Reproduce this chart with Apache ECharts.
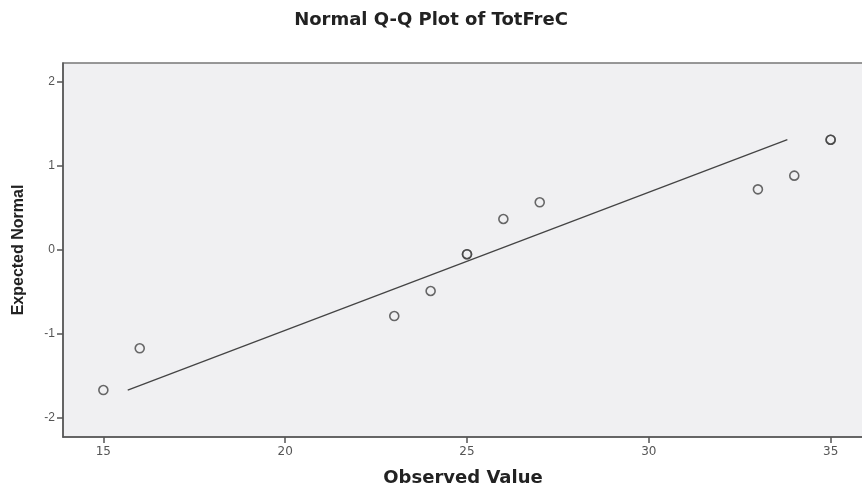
<!DOCTYPE html>
<html><head><meta charset="utf-8">
<script src="https://cdn.jsdelivr.net/npm/echarts@6/dist/echarts.min.js"></script>
<style>html,body{margin:0;padding:0;background:#fff}#c{width:862px;height:488px}</style>
</head><body><div id="c"></div>
<script>
const observedValues = [15, 16, 23, 24, 25, 25, 26, 27, 33, 34, 35, 35];
const expectedNormal = [-1.667, -1.17, -0.786, -0.488, -0.05, -0.05, 0.369, 0.568, 0.722, 0.885, 1.313, 1.313];
const lineX = [15.67, 33.81];
const lineY = [-1.667, 1.313];
const xTicks = [15, 20, 25, 30, 35];
const yTicks = [-2, -1, 0, 1, 2];

const points = observedValues.map((v, i) => [v, expectedNormal[i]]);
const linePts = lineX.map((v, i) => [v, lineY[i]]);
const wide = 'DejaVu Sans, Verdana, sans-serif';
const narrow = 'Liberation Sans, Arial, sans-serif';

const chart = echarts.init(document.getElementById('c'), null, {renderer: 'canvas'});
chart.setOption({
  animation: false,
  backgroundColor: '#ffffff',
  title: {
    text: 'Normal Q-Q Plot of TotFreC',
    left: 'center',
    top: 6,
    textStyle: {fontFamily: wide, fontSize: 18, fontWeight: 'bold', color: '#222'}
  },
  grid: {
    left: 63, right: -1, top: 63, bottom: 51,
    outerBoundsMode: 'none', containLabel: false,
    show: true, backgroundColor: '#f0f0f2', borderColor: '#777', borderWidth: 1.5
  },
  xAxis: {
    type: 'value', min: 13.89, max: 35.89,
    name: 'Observed Value', nameLocation: 'middle', nameGap: 32,
    nameTextStyle: {fontFamily: wide, fontSize: 18, fontWeight: 'bold', color: '#222'},
    axisLine: {show: true, onZero: false, lineStyle: {color: '#555', width: 1.5}},
    axisTick: {show: true, length: 6, customValues: xTicks, lineStyle: {color: '#555', width: 1.5}},
    axisLabel: {customValues: xTicks, fontFamily: wide, fontSize: 12, color: '#555', margin: 9},
    splitLine: {show: false}
  },
  yAxis: {
    type: 'value', min: -2.226, max: 2.226,
    name: 'Expected Normal', nameLocation: 'middle', nameGap: 36,
    nameTextStyle: {fontFamily: narrow, fontSize: 16, fontWeight: 'bold', color: '#222'},
    axisLine: {show: true, onZero: false, lineStyle: {color: '#555', width: 1.5}},
    axisTick: {show: true, length: 6, customValues: yTicks, lineStyle: {color: '#555', width: 1.5}},
    axisLabel: {customValues: yTicks, fontFamily: narrow, fontSize: 12, color: '#555', margin: 8},
    splitLine: {show: false}
  },
  series: [
    {
      type: 'line', data: linePts, symbol: 'none',
      lineStyle: {color: '#444', width: 1.3}, z: 2
    },
    {
      type: 'scatter', data: points, symbol: 'circle', symbolSize: 9,
      itemStyle: {color: 'rgba(0,0,0,0)', borderColor: '#444', borderWidth: 1.6}, z: 3
    }
  ]
});
</script></body></html>
